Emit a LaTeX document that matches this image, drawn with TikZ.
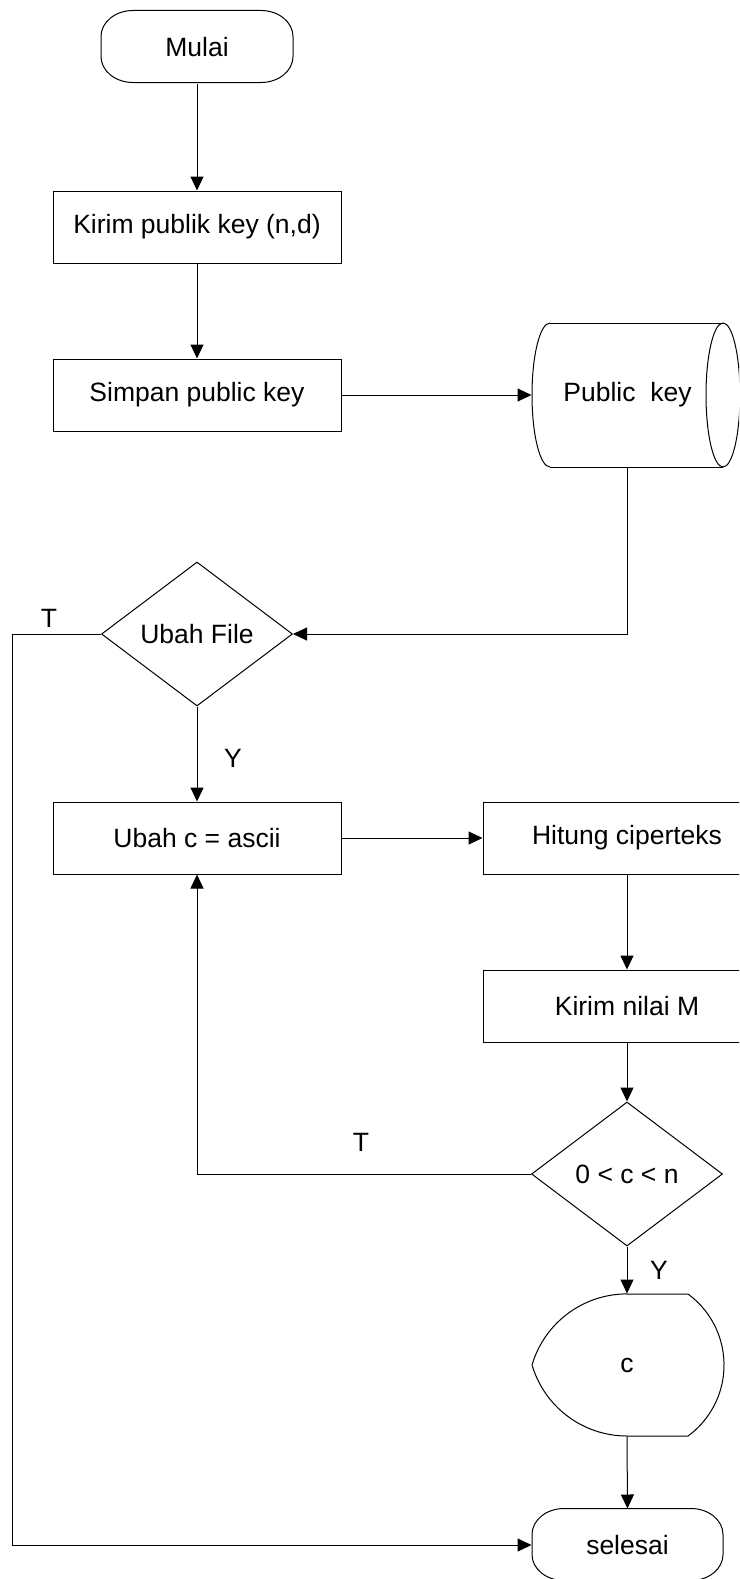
\documentclass[tikz,border=0pt]{standalone}
\usepackage{fontspec}
\setmainfont{Liberation Sans}
\usetikzlibrary{arrows.meta,shapes.geometric}

\tikzset{
  base/.style={font=\fontsize{26.5}{30}\selectfont, inner sep=0pt, line width=1pt},
  procbox/.style={base, draw, rectangle, minimum width=288, minimum height=72},
  termbox/.style={base, rectangle, minimum width=192, minimum height=72},
  decbox/.style={base, draw, diamond, minimum width=191, minimum height=144},
  ghost/.style={base, rectangle, minimum width=191, minimum height=144},
  lbl/.style={font=\fontsize{26.5}{30}\selectfont, inner sep=0pt},
  conn/.style={line width=1pt, -{Triangle[length=14pt,width=13pt]}},
  plain/.style={line width=1pt},
  corner/.style={x radius=32, y radius=26},
}

% outline of a terminator: #1 node name, #2 half length of the straight top edge
\newcommand{\termoutline}[2]{%
  \draw[plain] (#1.north) ++(-#2,0) -- ++(2*#2,0)
    arc[start angle=-90, end angle=0, corner] -- ++(0,20)
    arc[start angle=0, end angle=90, corner] -- ++(-2*#2,0)
    arc[start angle=90, end angle=180, corner] -- ++(0,-20)
    arc[start angle=180, end angle=270, corner] -- cycle;}

\begin{document}
\begin{tikzpicture}[x=1pt,y=-1pt]
  \useasboundingbox (0,0) rectangle (739,1579);
  \clip (0,0) rectangle (739,1579);
  \fill[white] (0,0) rectangle (739,1579);

  % process nodes
  \node[termbox] (mulai)   at (197,47)    {Mulai};
  \node[procbox] (kirim)   at (197,227)   {Kirim publik key (n,d)};
  \node[procbox] (simpan)  at (197,395)   {Simpan public key};
  \node[ghost]   (pk)      at (627.5,395) {Public\ \ key};
  \node[decbox]  (ubahfile) at (197,634)  {Ubah File};
  \node[procbox] (ubahc)   at (197,838)   {Ubah c = ascii};
  \node[procbox] (hitung)  at (627,838)   {Hitung ciperteks};
  \node[procbox] (kirimm)  at (627,1006)  {Kirim nilai M};
  \node[decbox]  (cek)     at (627,1174)  {0 < c < n};
  \node[base, rectangle, minimum width=191, minimum height=142] (disp) at (627,1365) {c};
  \node[termbox, minimum width=191] (selesai) at (627.5,1545) {selesai};

  % terminator outlines
  \termoutline{mulai}{64}
  \termoutline{selesai}{63.5}

  % stored data: horizontal cylinder
  \draw[plain] (550,323) -- (723,323);
  \draw[plain] (550,467) -- (723,467);
  \draw[plain] (550,323) arc[start angle=-90, end angle=-270, x radius=18, y radius=72];
  \draw[plain] (723,395) ellipse[x radius=17, y radius=72];

  % display symbol
  \draw[plain] (627,1294) -- (688,1294)
    arc[start angle=-53.8, end angle=53.8, radius=88]
    -- (627,1436)
    arc[start angle=90, end angle=163.6, radius=99]
    arc[start angle=-163.6, end angle=-90, radius=99] -- cycle;

  % connectors
  \coordinate (lft) at (12,634);
  \draw[conn] (mulai.south) -- (kirim.north);
  \draw[conn] (kirim.south) -- (simpan.north);
  \draw[conn] (simpan.east) -- (pk.west);
  \draw[conn] (pk.south) |- (ubahfile.east);
  \draw[conn] (ubahfile.west) -- (lft) |- (selesai.west);
  \draw[conn] (ubahfile.south) -- (ubahc.north);
  \draw[conn] (ubahc.east) -- (hitung.west);
  \draw[conn] (hitung.south) -- (kirimm.north);
  \draw[conn] (kirimm.south) -- (cek.north);
  \draw[conn] (cek.west) -| (ubahc.south);
  \draw[conn] (cek.south) -- (disp.north);
  \draw[conn] (disp.south) -- (selesai.north);

  % branch labels
  \node[lbl] (t1) at (49,618)   {T};
  \node[lbl] (y1) at (233,758)  {Y};
  \node[lbl] (t2) at (361,1142) {T};
  \node[lbl] (y2) at (659,1270) {Y};
\end{tikzpicture}
\end{document}
